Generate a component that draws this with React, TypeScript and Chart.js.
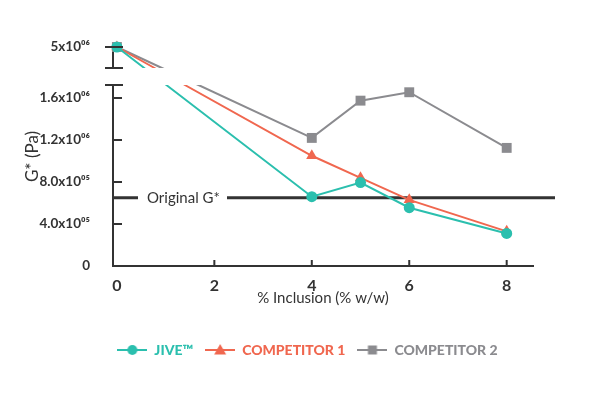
import React, { useEffect, useRef } from "react";
import { Chart, registerables } from "chart.js";

Chart.register(...registerables);

// ---- data ----
const X_VALUES = [0, 4, 5, 6, 8];
const JIVE = [5e6, 6.6e5, 7.95e5, 5.55e5, 3.1e5];
const COMPETITOR_1 = [5e6, 1.05e6, 8.4e5, 6.3e5, 3.3e5];
const COMPETITOR_2 = [5e6, 1.22e6, 1.575e6, 1.655e6, 1.125e6];
const SERIES_NAMES = ["JIVE™", "COMPETITOR 1", "COMPETITOR 2"];
const X_TICKS = [0, 2, 4, 6, 8];
const Y_TICK_VALUES = [0, 4e5, 8e5, 1.2e6, 1.6e6, 5e6];
const Y_TICK_LABELS = ["0", "4.0x10⁰⁵", "8.0x10⁰⁵", "1.2x10⁰⁶", "1.6x10⁰⁶", "5x10⁰⁶"];
const ORIGINAL_G = 6.5e5;
const ORIGINAL_LABEL = "Original G*";
const X_TITLE = "% Inclusion (% w/w)";
const Y_TITLE = "G* (Pa)";

// ---- styling ----
const COLORS = ["#2bbfae", "#f0674f", "#8b8b8f"];
const STYLES = ["circle", "triangle", "rect"];
const RADII = [5.5, 6.5, 7];
const DARK = "#333333";
const AXIS_FONT = "Lato, 'Noto Sans', sans-serif";
const GEOMETRIC = "Lato, 'Noto Sans', sans-serif";

// ---- axis break (value axis is compressed above the break) ----
const BREAK_LOW = 1.724e6;
const BREAK_HIGH = 1.886e6;
const UPPER_REAL = 5e6;
const UPPER_DISPLAY = 2.086e6;
const toDisplay = (v: number) => (v > 2e6 ? UPPER_DISPLAY + (v - UPPER_REAL) * 0.1 : v);

function makeLegendIcon(color: string, style: string): HTMLCanvasElement {
  const c = document.createElement("canvas");
  c.width = 30;
  c.height = 14;
  const ctx = c.getContext("2d")!;
  ctx.strokeStyle = color;
  ctx.lineWidth = 2;
  ctx.beginPath();
  ctx.moveTo(0, 7);
  ctx.lineTo(30, 7);
  ctx.stroke();
  ctx.fillStyle = color;
  ctx.beginPath();
  if (style === "circle") {
    ctx.arc(15, 7, 5, 0, Math.PI * 2);
  } else if (style === "triangle") {
    ctx.moveTo(15, 1);
    ctx.lineTo(21, 11.5);
    ctx.lineTo(9, 11.5);
    ctx.closePath();
  } else {
    ctx.rect(10.5, 2.5, 9, 9);
  }
  ctx.fill();
  return c;
}

const breakPlugin = {
  id: "axisBreak",
  beforeDatasetsDraw(chart: any) {
    const { ctx, chartArea, scales } = chart;
    const y = scales.y.getPixelForValue(ORIGINAL_G);
    const left = chartArea.left;
    ctx.save();
    ctx.strokeStyle = DARK;
    ctx.lineWidth = 3;
    ctx.beginPath();
    ctx.moveTo(left, y);
    ctx.lineTo(left + 25, y);
    ctx.moveTo(left + 114, y);
    ctx.lineTo(555, y);
    ctx.stroke();
    ctx.fillStyle = DARK;
    ctx.font = `15px ${GEOMETRIC}`;
    ctx.textBaseline = "middle";
    ctx.textAlign = "left";
    ctx.fillText(ORIGINAL_LABEL, left + 34, y);
    ctx.restore();
  },
  afterDatasetsDraw(chart: any) {
    const { ctx, chartArea, scales } = chart;
    const ys = scales.y;
    const xs = scales.x;
    const yTop = ys.getPixelForValue(BREAK_HIGH);
    const yBot = ys.getPixelForValue(BREAK_LOW);
    const left = chartArea.left;
    ctx.save();
    ctx.fillStyle = "#ffffff";
    ctx.fillRect(left - 12, yTop, chartArea.right - left + 12, yBot - yTop);
    ctx.strokeStyle = DARK;
    ctx.lineWidth = 2;
    ctx.beginPath();
    for (const yy of [yTop, yBot, ys.getPixelForValue(toDisplay(UPPER_REAL))]) {
      ctx.moveTo(left - 8, yy);
      ctx.lineTo(left + 10, yy);
    }
    for (const v of Y_TICK_VALUES.slice(1, 5)) {
      const yy = ys.getPixelForValue(toDisplay(v));
      ctx.moveTo(left, yy);
      ctx.lineTo(left + 9, yy);
    }
    for (const v of X_TICKS.slice(1)) {
      const xx = xs.getPixelForValue(v);
      ctx.moveTo(xx, chartArea.bottom);
      ctx.lineTo(xx, chartArea.bottom - 6);
    }
    ctx.stroke();
    ctx.restore();
  },
};

export default function App() {
  const ref = useRef<HTMLCanvasElement>(null);

  useEffect(() => {
    const series = [JIVE, COMPETITOR_1, COMPETITOR_2];
    const icons = COLORS.map((c, i) => makeLegendIcon(c, STYLES[i]));
    const chart = new Chart(ref.current!, {
      type: "line",
      data: {
        datasets: series.map((vals, i) => ({
          label: SERIES_NAMES[i],
          data: vals.map((v, j) => ({ x: X_VALUES[j], y: toDisplay(v) })),
          borderColor: COLORS[i],
          backgroundColor: COLORS[i],
          borderWidth: 2,
          pointStyle: STYLES[i],
          pointRadius: RADII[i],
          pointBorderWidth: 0,
          tension: 0,
          clip: false as any,
        })),
      },
      options: {
        responsive: false,
        animation: false,
        devicePixelRatio: 1,
        layout: { padding: { top: 47, right: 0, bottom: 28, left: 18 } },
        plugins: {
          tooltip: { enabled: false },
          legend: {
            position: "bottom",
            maxHeight: 36,
            labels: {
              usePointStyle: true,
              pointStyleWidth: 30,
              padding: 12,
              font: { family: GEOMETRIC, size: 14, weight: "900" },
              generateLabels: () =>
                SERIES_NAMES.map((name, i) => ({
                  text: name,
                  fontColor: COLORS[i],
                  fillStyle: COLORS[i],
                  strokeStyle: COLORS[i],
                  lineWidth: 0,
                  pointStyle: icons[i],
                  hidden: false,
                  datasetIndex: i,
                })) as any,
            },
          },
        },
        scales: {
          x: {
            type: "linear",
            min: -0.08,
            max: 8.54,
            afterBuildTicks: (s: any) => {
              s.ticks = X_TICKS.map((v) => ({ value: v }));
            },
            afterFit: (s: any) => {
              s.height = 65;
            },
            grid: { display: false },
            border: { display: true, color: DARK, width: 2 },
            ticks: {
              color: DARK,
              padding: 2,
              font: { family: AXIS_FONT, size: 16, weight: "bold" },
              callback: (v: any) => String(v),
            },
            title: {
              display: true,
              text: X_TITLE,
              color: DARK,
              font: { family: AXIS_FONT, size: 15 },
              padding: { top: 0, bottom: 24 },
            },
          },
          y: {
            type: "linear",
            min: 0,
            max: UPPER_DISPLAY,
            afterBuildTicks: (s: any) => {
              s.ticks = Y_TICK_VALUES.map((v) => ({ value: toDisplay(v) }));
            },
            afterFit: (s: any) => {
              s.width = 95;
            },
            grid: { display: false },
            border: { display: true, color: DARK, width: 2 },
            ticks: {
              color: DARK,
              padding: 15,
              font: { family: AXIS_FONT, size: 13.5, weight: "bold" },
              callback: (_v: any, idx: number) => Y_TICK_LABELS[idx],
            },
            title: {
              display: true,
              text: Y_TITLE,
              color: DARK,
              font: { family: AXIS_FONT, size: 17 },
              padding: { top: 4, bottom: 0 },
            },
          },
          yRightSpace: {
            type: "linear",
            position: "right",
            display: true,
            afterFit: (s: any) => {
              s.width = 64;
            },
            grid: { display: false },
            border: { display: false },
            ticks: { display: false },
          },
        },
      },
      plugins: [breakPlugin],
    });
    return () => chart.destroy();
  }, []);

  return (
    <div style={{ position: "absolute", left: 0, top: 0, width: 597, height: 395, background: "#fff" }}>
      <canvas ref={ref} width={597} height={395} />
    </div>
  );
}
